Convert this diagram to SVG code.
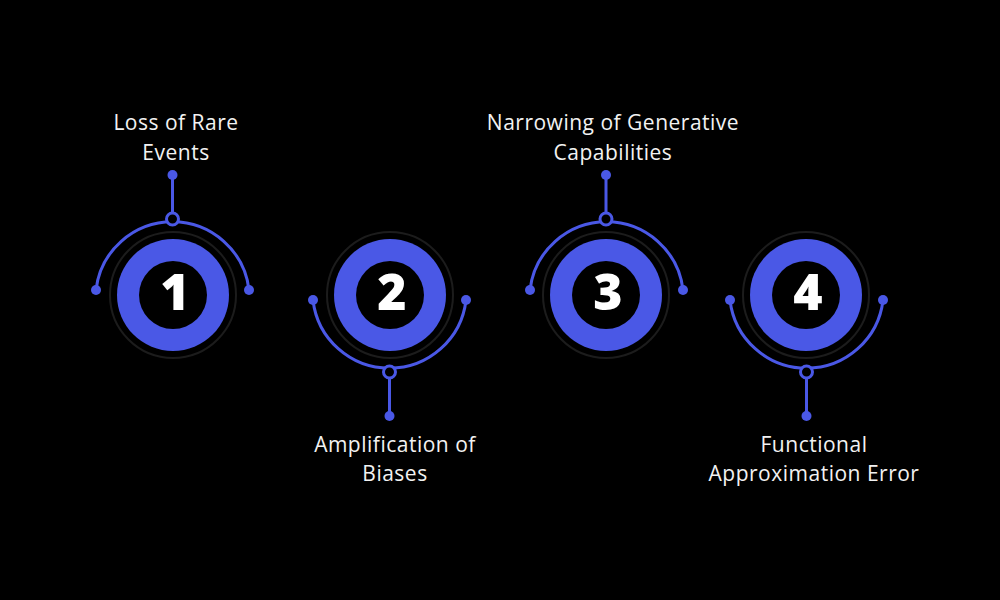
<svg xmlns="http://www.w3.org/2000/svg" width="1000" height="600" viewBox="0 0 1000 600">
<style>
.disk{fill:#4a58e6}
.hole{fill:#000}
.halo{fill:none;stroke:#1c1c1c;stroke-width:2}
.num{font-family:"Open Sans","Liberation Sans",sans-serif;font-weight:800;font-size:50px;fill:#fff;text-anchor:middle}
.lbl{font-family:"Open Sans","Liberation Sans",sans-serif;font-size:21px;letter-spacing:0.5px;fill:#f2f2f2;text-anchor:middle}
.arc{fill:none;stroke:#4a58e6;stroke-width:3}
.ring{fill:#000;stroke:#4a58e6;stroke-width:3}
.dot{fill:#4a58e6}
</style>
<rect width="1000" height="600" fill="#000"/>
<g id="connectors">
  <path class="arc" d="M96 290 A77 77 0 0 1 249 290"/>
  <line class="arc" x1="172.5" y1="175" x2="172.5" y2="219"/>
  <circle class="ring" cx="172.5" cy="219" r="6"/>
  <circle class="dot" cx="96" cy="290" r="5"/>
  <circle class="dot" cx="249" cy="290" r="5"/>
  <circle class="dot" cx="172.5" cy="175" r="5"/>

  <path class="arc" d="M313 300 A77 77 0 0 0 466 300"/>
  <line class="arc" x1="389.5" y1="372" x2="389.5" y2="416"/>
  <circle class="ring" cx="389.5" cy="372" r="6"/>
  <circle class="dot" cx="313" cy="300" r="5"/>
  <circle class="dot" cx="466" cy="300" r="5"/>
  <circle class="dot" cx="389.5" cy="416" r="5"/>

  <path class="arc" d="M530 290 A77 77 0 0 1 683 290"/>
  <line class="arc" x1="606" y1="175" x2="606" y2="219"/>
  <circle class="ring" cx="606" cy="219" r="6"/>
  <circle class="dot" cx="530" cy="290" r="5"/>
  <circle class="dot" cx="683" cy="290" r="5"/>
  <circle class="dot" cx="606" cy="175" r="5"/>

  <path class="arc" d="M730 300 A77 77 0 0 0 883 300"/>
  <line class="arc" x1="806.5" y1="372" x2="806.5" y2="416"/>
  <circle class="ring" cx="806.5" cy="372" r="6"/>
  <circle class="dot" cx="730" cy="300" r="5"/>
  <circle class="dot" cx="883" cy="300" r="5"/>
  <circle class="dot" cx="806.5" cy="416" r="5"/>
</g>
<g id="node1">
  <circle class="halo" cx="173" cy="295" r="63"/>
  <circle class="disk" cx="173" cy="295" r="56"/>
  <circle class="hole" cx="173" cy="295" r="34"/>
  <text class="num" x="175" y="310">1</text>
  <text class="lbl" x="176" y="130">Loss of Rare</text>
  <text class="lbl" x="176" y="160">Events</text>
</g>
<g id="node2">
  <circle class="halo" cx="390" cy="295" r="63"/>
  <circle class="disk" cx="390" cy="295" r="56"/>
  <circle class="hole" cx="390" cy="295" r="34"/>
  <text class="num" x="392" y="310">2</text>
  <text class="lbl" x="395" y="452">Amplification of</text>
  <text class="lbl" x="395" y="481">Biases</text>
</g>
<g id="node3">
  <circle class="halo" cx="606" cy="295" r="63"/>
  <circle class="disk" cx="606" cy="295" r="56"/>
  <circle class="hole" cx="606" cy="295" r="34"/>
  <text class="num" x="608" y="310">3</text>
  <text class="lbl" x="613" y="130">Narrowing of Generative</text>
  <text class="lbl" x="613" y="160">Capabilities</text>
</g>
<g id="node4">
  <circle class="halo" cx="806" cy="295" r="63"/>
  <circle class="disk" cx="806" cy="295" r="56"/>
  <circle class="hole" cx="806" cy="295" r="34"/>
  <text class="num" x="808" y="310">4</text>
  <text class="lbl" x="814" y="452">Functional</text>
  <text class="lbl" x="814" y="481">Approximation Error</text>
</g>
</svg>
